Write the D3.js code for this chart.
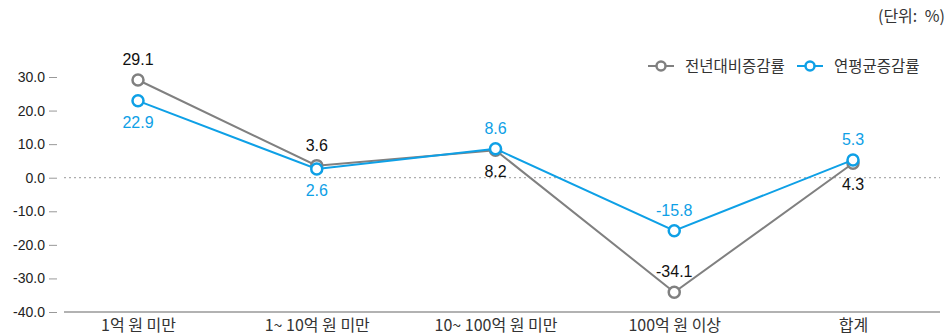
<!DOCTYPE html>
<html>
<head>
<meta charset="utf-8">
<script src="https://cdn.jsdelivr.net/npm/d3@7/dist/d3.min.js"></script>
<style>
  html, body { margin: 0; padding: 0; background: #fff; }
  svg { display: block; }
</style>
</head>
<body>
<script>
// Categories and series
const categories = ["1억 원 미만", "1~ 10억 원 미만", "10~ 100억 원 미만", "100억 원 이상", "합계"];
const seriesNames = ["전년대비증감률", "연평균증감률"];
const yoyValues = [29.1, 3.6, 8.2, -34.1, 4.3];
const cagrValues = [22.9, 2.6, 8.6, -15.8, 5.3];
const yTicks = [30, 20, 10, 0, -10, -20, -30, -40];
// label placement per point: "above" or "below"
const yoyLabelPos = ["above", "above", "below", "above", "below"];
const cagrLabelPos = ["below", "below", "above", "above", "above"];

const width = 952, height = 335;
const colors = ["#808080", "#0ea0e6"];

const fmt = d => d3.format(".1f")(d).replace("\u2212", "-");

const svg = d3.select("body").append("svg")
  .attr("width", width).attr("height", height);

const x = d3.scalePoint().domain(categories).range([138, 853]);
const y = d3.scaleLinear().domain([-40, 30]).range([312, 77]);

// Unit note
svg.append("text")
  .attr("x", 945).attr("y", 22)
  .attr("text-anchor", "end")
  .attr("font-family", "'Noto Sans CJK KR', sans-serif")
  .attr("font-size", 16).attr("fill", "#333")
  .attr("word-spacing", 4)
  .text("(단위: %)");

// Y axis: labels with short tick marks, no domain line
const yAxis = d3.axisLeft(y).tickValues(yTicks).tickFormat(fmt).tickSize(8).tickPadding(4);
const gy = svg.append("g").attr("transform", "translate(57,0)").call(yAxis);
gy.select(".domain").remove();
gy.selectAll(".tick line").attr("stroke", "#999");
gy.selectAll(".tick text")
  .attr("font-family", "Arial, 'Liberation Sans', sans-serif")
  .attr("font-size", 14).attr("fill", "#222");

// Zero reference line
svg.append("line")
  .attr("x1", 64).attr("x2", 940)
  .attr("y1", y(0)).attr("y2", y(0))
  .attr("stroke", "#999").attr("stroke-width", 1).attr("stroke-dasharray", "2,3");

// Bottom axis
const xAxis = d3.axisBottom(x).tickSize(0).tickPadding(8);
const gx = svg.append("g").attr("transform", `translate(0,${y(-40)})`).call(xAxis);
gx.select(".domain").attr("stroke", "#999").attr("stroke-width", 1.5).attr("d", "M64,0H940");
gx.selectAll(".tick text")
  .attr("font-family", "'Noto Sans CJK KR', sans-serif")
  .attr("font-size", 16).attr("fill", "#333");

const line = d3.line().x((d, i) => x(categories[i])).y(d => y(d));

function drawSeries(values, color, labelPos, labelColor) {
  svg.append("path").datum(values)
    .attr("fill", "none").attr("stroke", color).attr("stroke-width", 2)
    .attr("d", line);
  svg.append("g").selectAll("circle").data(values).join("circle")
    .attr("cx", (d, i) => x(categories[i])).attr("cy", d => y(d))
    .attr("r", 5.5).attr("fill", "#fff").attr("stroke", color).attr("stroke-width", 2.5);
  svg.append("g").selectAll("text").data(values).join("text")
    .attr("x", (d, i) => x(categories[i]))
    .attr("y", (d, i) => labelPos[i] === "above" ? y(d) - 15 : y(d) + 27)
    .attr("text-anchor", "middle")
    .attr("font-family", "Arial, 'Liberation Sans', sans-serif")
    .attr("font-size", 16).attr("fill", labelColor)
    .text(fmt);
}

drawSeries(yoyValues, colors[0], yoyLabelPos, "#111");
drawSeries(cagrValues, colors[1], cagrLabelPos, colors[1]);

// Legend
const legendX = [648, 797];
seriesNames.forEach((name, i) => {
  const g = svg.append("g").attr("transform", `translate(${legendX[i]},66)`);
  g.append("line").attr("x1", 0).attr("x2", 26).attr("stroke", colors[i]).attr("stroke-width", 2);
  g.append("circle").attr("cx", 13).attr("r", 4.5).attr("fill", "#fff").attr("stroke", colors[i]).attr("stroke-width", 2.5);
  g.append("text").attr("x", 37).attr("y", 5.5)
    .attr("font-family", "'Noto Sans CJK KR', sans-serif")
    .attr("font-size", 15.5).attr("fill", "#333").text(name);
});
</script>
</body>
</html>
